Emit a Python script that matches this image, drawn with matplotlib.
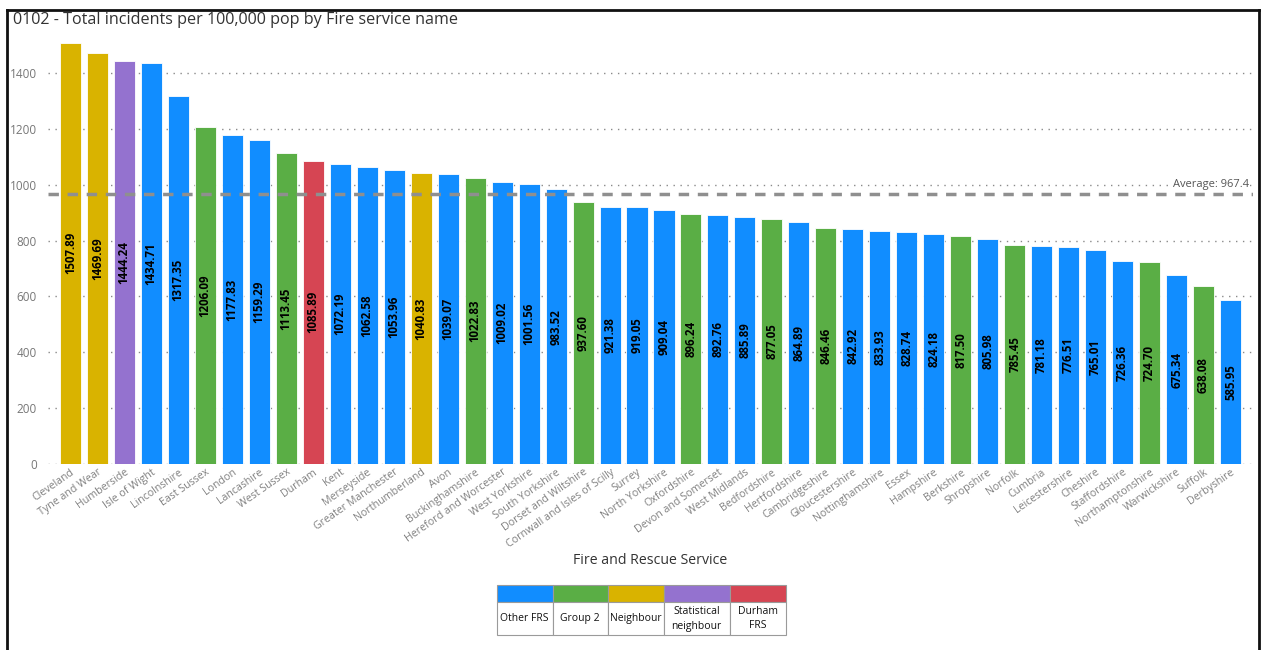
import matplotlib
matplotlib.use("Agg")
import matplotlib.pyplot as plt
from matplotlib.patches import Rectangle
from matplotlib.lines import Line2D

plt.rcParams['font.family'] = ['Open Sans', 'DejaVu Sans']

# ---- data -------------------------------------------------------------
services = [
    "Cleveland", "Tyne and Wear", "Humberside", "Isle of Wight", "Lincolnshire",
    "East Sussex", "London", "Lancashire", "West Sussex", "Durham", "Kent",
    "Merseyside", "Greater Manchester", "Northumberland", "Avon",
    "Buckinghamshire", "Hereford and Worcester", "West Yorkshire",
    "South Yorkshire", "Dorset and Wiltshire", "Cornwall and Isles of Scilly",
    "Surrey", "North Yorkshire", "Oxfordshire", "Devon and Somerset",
    "West Midlands", "Bedfordshire", "Hertfordshire", "Cambridgeshire",
    "Gloucestershire", "Nottinghamshire", "Essex", "Hampshire", "Berkshire",
    "Shropshire", "Norfolk", "Cumbria", "Leicestershire", "Cheshire",
    "Staffordshire", "Northamptonshire", "Warwickshire", "Suffolk", "Derbyshire",
]
incidents = [
    1507.89, 1469.69, 1444.24, 1434.71, 1317.35, 1206.09, 1177.83, 1159.29,
    1113.45, 1085.89, 1072.19, 1062.58, 1053.96, 1040.83, 1039.07, 1022.83,
    1009.02, 1001.56, 983.52, 937.60, 921.38, 919.05, 909.04, 896.24, 892.76,
    885.89, 877.05, 864.89, 846.46, 842.92, 833.93, 828.74, 824.18, 817.50,
    805.98, 785.45, 781.18, 776.51, 765.01, 726.36, 724.70, 675.34, 638.08,
    585.95,
]
neighbour = ["Cleveland", "Tyne and Wear", "Northumberland"]
statistical_neighbour = ["Humberside"]
home_service = ["Durham"]
group_2 = [
    "East Sussex", "West Sussex", "Buckinghamshire", "Dorset and Wiltshire",
    "Oxfordshire", "Bedfordshire", "Cambridgeshire", "Berkshire", "Norfolk",
    "Northamptonshire", "Suffolk",
]
average_value = 967.4
y_ticks = [0, 200, 400, 600, 800, 1000, 1200, 1400]
legend_labels = ["Other FRS", "Group 2", "Neighbour", "Statistical\nneighbour", "Durham\nFRS"]

# ---- styling ----------------------------------------------------------
C_OTHER = "#118DFF"
C_GROUP2 = "#5AAE45"
C_NEIGH = "#D9B300"
C_STAT = "#9472CF"
C_DUR = "#D64553"
legend_colors = [C_OTHER, C_GROUP2, C_NEIGH, C_STAT, C_DUR]


def colour_for(name):
    if name in home_service:
        return C_DUR
    if name in statistical_neighbour:
        return C_STAT
    if name in neighbour:
        return C_NEIGH
    if name in group_2:
        return C_GROUP2
    return C_OTHER


W, H = 1265, 650
fig = plt.figure(figsize=(W / 100, H / 100), dpi=100)
fig.patch.set_facecolor("white")

ax = fig.add_axes([48 / W, 1 - 464 / H, (1253 - 48) / W, (464 - 36) / H])
x = list(range(len(services)))
colors = [colour_for(s) for s in services]
bars = ax.bar(x, incidents, width=0.78, color=colors, edgecolor="white",
              linewidth=0.6, zorder=3)

ax.set_xlim(-0.83, len(services) - 0.17)
ax.set_ylim(0, 1532)

# dotted gridlines
ax.set_yticks(y_ticks)
ax.yaxis.grid(True, linestyle=(0, (1, 4)), color="#8a8a8a", linewidth=1.0, zorder=1)
ax.set_axisbelow(True)
for sp in ax.spines.values():
    sp.set_visible(False)
ax.tick_params(axis="y", length=0, pad=8, labelsize=8.5, labelcolor="#777777")
ax.tick_params(axis="x", length=0, pad=2)
ax.set_xticks(x)
ax.set_xticklabels(services, rotation=35, ha="right", rotation_mode="anchor",
                   fontsize=7.7, color="#808080")

# average line
ax.axhline(average_value, color="#8f8f8f", linestyle=(0, (3, 2.5)), linewidth=2.5, zorder=4)
ax.text(len(services) - 0.3, average_value + 12, f"Average: {average_value}",
        ha="right", va="bottom", fontsize=8, color="#555555", zorder=5,
        bbox=dict(facecolor="white", edgecolor="none", pad=0.5))

# values inside bars
for xi, v in zip(x, incidents):
    ax.text(xi, v / 2, f"{v:.2f}", rotation=90, ha="center", va="center",
            fontsize=8.3, fontweight="bold", color="black", zorder=6)

# axis title
fig.text(650 / W, 1 - 561 / H, "Fire and Rescue Service", ha="center", va="center",
         fontsize=10.2, color="#333333")

# chart title
fig.text(13 / W, 1 - 20 / H, "0102 - Total incidents per 100,000 pop by Fire service name",
         ha="left", va="center", fontsize=11.6, color="#333333")

# legend table
col_edges = [497, 552.5, 608, 663.5, 730, 786]
top, mid, bot = 585, 602, 635
for i, (lab, col) in enumerate(zip(legend_labels, legend_colors)):
    x0, x1 = col_edges[i], col_edges[i + 1]
    fig.add_artist(Rectangle((x0 / W, 1 - mid / H), (x1 - x0) / W, (mid - top) / H,
                             transform=fig.transFigure, facecolor=col,
                             edgecolor="#9a9a9a", linewidth=0.8))
    fig.add_artist(Rectangle((x0 / W, 1 - bot / H), (x1 - x0) / W, (bot - mid) / H,
                             transform=fig.transFigure, facecolor="white",
                             edgecolor="#9a9a9a", linewidth=0.8))
    fig.text((x0 + x1) / 2 / W, 1 - (mid + bot) / 2 / H, lab, ha="center", va="center",
             fontsize=7.5, color="#111111", linespacing=1.5)

# outer frame
frame_l, frame_t, frame_r = 6.5, 10, 1259
for (xa, ya, xb, yb) in [(frame_l, frame_t, frame_r, frame_t),
                         (frame_l, frame_t, frame_l, H + 5),
                         (frame_r, frame_t, frame_r, H + 5)]:
    fig.add_artist(Line2D([xa / W, xb / W], [1 - ya / H, 1 - yb / H],
                          transform=fig.transFigure, color="#111111", linewidth=2))

fig.savefig("out.png", dpi=100, facecolor="white")
